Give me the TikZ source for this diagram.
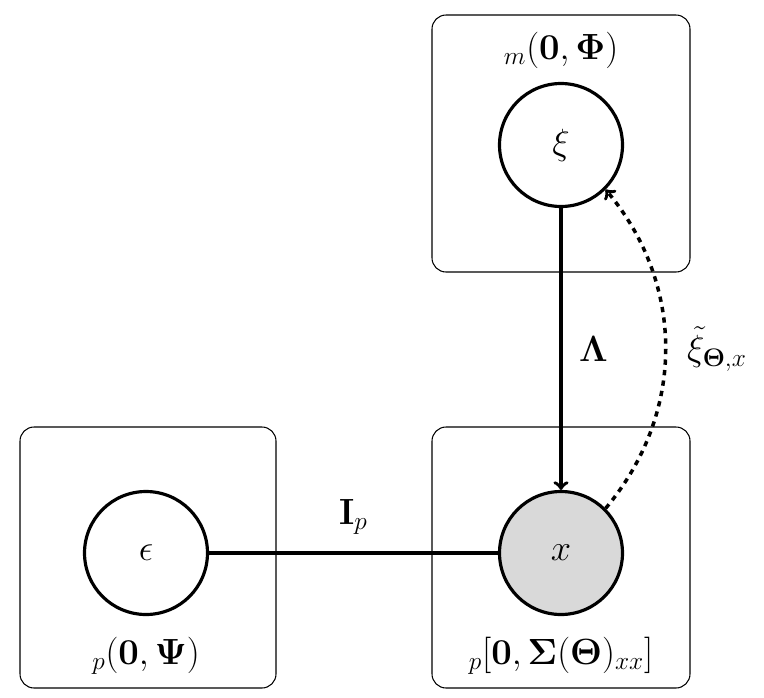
\documentclass[tikz,border=0pt]{standalone}
\usepackage{amsmath}
\usetikzlibrary{positioning}
\tikzset{
  plate/.style={draw, rounded corners=8pt, line width=0.6pt},
  var/.style={draw, circle, line width=1.8pt, minimum size=70pt, inner sep=0pt, fill=white},
  obs/.style={var, fill=gray!30},
  edge/.style={line width=2pt},
}
\begin{document}
\begin{tikzpicture}[x=0.02cm, y=-0.02cm, font=\huge]

\path [use as bounding box] (0,0) rectangle (764,697);

% PLATES
\draw [plate] (432,15) rectangle (690,272);
\draw [plate] (20,427) rectangle (276,688);
\draw [plate] (432,427) rectangle (690,688);

% VARIABLES
\node [var] (xi) at (561,145) {$\xi$};
\node [var] (eps) at (146,553) {$\epsilon$};
\node [obs] (x) at (561,553) {$x$};

% DISTRIBUTIONS
\node (dxi) at (561,50) {${}_m(\mathbf{0},\boldsymbol{\Phi})$};
\node (deps) at (146,656) {${}_p(\mathbf{0},\boldsymbol{\Psi})$};
\node (dx) at (561,656) {${}_p[\mathbf{0},\boldsymbol{\Sigma}(\boldsymbol{\Theta})_{xx}]$};

% EDGES
\draw [edge, ->] (xi) -- node[right=6pt] {$\boldsymbol{\Lambda}$} (x);
\draw [edge] (eps) -- node[above=6pt] {$\mathbf{I}_p$} (x);
\draw [edge, dashed, ->] (x.45) to[bend right=40] node[right=8pt] {$\tilde{\xi}_{\boldsymbol{\Theta},x}$} (xi.-45);

\end{tikzpicture}
\end{document}
